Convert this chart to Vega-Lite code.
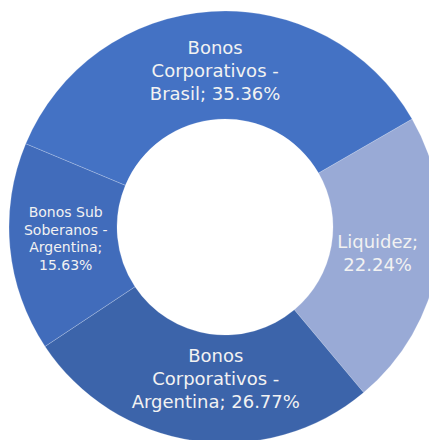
{
  "$schema": "https://vega.github.io/schema/vega-lite/v6.json",
  "width": 450,
  "height": 454,
  "padding": 0,
  "autosize": {"type": "none"},
  "background": "white",
  "config": {"view": {"stroke": null}},
  "data": {
    "values": [
      {"orden": 1, "serie": "Liquidez", "pct": 22.24, "etiqueta": "Liquidez;\n22.24%"},
      {"orden": 2, "serie": "Bonos Corporativos - Argentina", "pct": 26.77, "etiqueta": "Bonos\nCorporativos -\nArgentina; 26.77%"},
      {"orden": 3, "serie": "Bonos Sub Soberanos - Argentina", "pct": 15.63, "etiqueta": "Bonos Sub\nSoberanos -\nArgentina;\n15.63%"},
      {"orden": 4, "serie": "Bonos Corporativos - Brasil", "pct": 35.36, "etiqueta": "Bonos\nCorporativos -\nBrasil; 35.36%"}
    ]
  },
  "encoding": {
    "theta": {"field": "pct", "type": "quantitative", "stack": true, "scale": {"range": [1.0472, 7.3304]}},
    "order": {"field": "orden", "type": "quantitative"}
  },
  "layer": [
    {
      "mark": {"type": "arc", "outerRadius": 216, "innerRadius": 108, "stroke": "#ffffff", "strokeWidth": 0.6, "strokeOpacity": 0.35},
      "encoding": {
        "color": {
          "field": "serie",
          "type": "nominal",
          "legend": null,
          "scale": {
            "domain": ["Liquidez", "Bonos Corporativos - Argentina", "Bonos Sub Soberanos - Argentina", "Bonos Corporativos - Brasil"],
            "range": ["#99AAD6", "#3C64AA", "#416CBB", "#4472C4"]
          }
        }
      }
    },
    {
      "mark": {
        "type": "text",
        "radius": 155,
        "font": "DejaVu Sans",
        "fontWeight": "normal",
        "fill": "#F2F2F2",
        "align": "center",
        "baseline": "middle",
        "lineBreak": "\n",
        "letterSpacing": {"expr": "datum.serie == 'Bonos Sub Soberanos - Argentina' ? 0.9 : 1.2"},
        "lineHeight": {"expr": "datum.serie == 'Bonos Sub Soberanos - Argentina' ? 17.5 : 23"},
        "dy": {"expr": "-(length(split(datum.etiqueta, '\\n')) - 1) / 2 * (datum.serie == 'Bonos Sub Soberanos - Argentina' ? 17.5 : 23) - (datum.serie == 'Bonos Sub Soberanos - Argentina' ? 2 : 0)"},
        "dx": {"expr": "datum.serie == 'Bonos Corporativos - Argentina' ? 13 : (datum.serie == 'Bonos Sub Soberanos - Argentina' ? -5 : 0)"}
      },
      "encoding": {
        "text": {"field": "etiqueta", "type": "nominal"},
        "size": {"condition": {"test": "datum.serie == 'Bonos Sub Soberanos - Argentina'", "value": 14}, "value": 18}
      }
    }
  ]
}
